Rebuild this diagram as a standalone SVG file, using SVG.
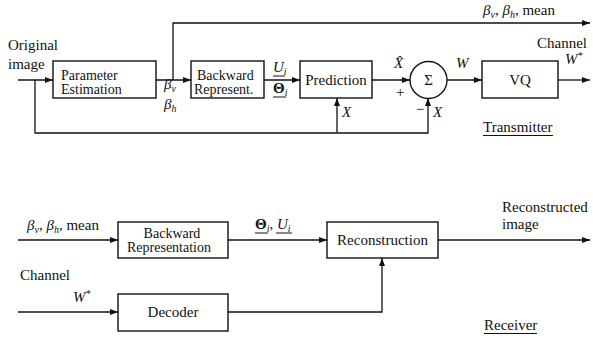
<svg xmlns="http://www.w3.org/2000/svg" width="593" height="339" viewBox="0 0 593 339" font-family="'Liberation Serif','Times New Roman',serif">
<defs>
<marker id="arr" markerUnits="userSpaceOnUse" markerWidth="8" markerHeight="6" refX="8" refY="3" orient="auto">
<path d="M0,0 L8,3 L0,6 z" fill="#111"/>
</marker>
<style>
.box{fill:#fff;stroke:#111;stroke-width:1.4}
.ln{fill:none;stroke:#111;stroke-width:1.3}
.a{marker-end:url(#arr)}
text{font-family:'Liberation Serif','Times New Roman',serif;font-size:15px;fill:#111}
.t2{font-size:14px}
.m{font-style:italic}
.c{text-anchor:middle}
.s{font-size:10px}
.ul{fill:none;stroke:#111;stroke-width:1}
</style>
</defs>
<rect width="593" height="339" fill="#fff"/>

<g id="connectors">
<path class="ln a" d="M18,80 H53"/>
<path class="ln a" d="M156,80 H191"/>
<path class="ln a" d="M173,80 V23 H590"/>
<path class="ln a" d="M264,80 H300"/>
<path class="ln a" d="M372,80 H410"/>
<path class="ln a" d="M447,80 H482"/>
<path class="ln a" d="M558,80 H590"/>
<path class="ln a" d="M35,80 V133 H428 V98"/>
<path class="ln a" d="M337,133 V98"/>
<path class="ln a" d="M18,240 H118"/>
<path class="ln a" d="M228,240 H327"/>
<path class="ln a" d="M438,240 H590"/>
<path class="ln a" d="M18,312 H118"/>
<path class="ln a" d="M228,312 H382 V258"/>
</g>

<g id="param-est">
<rect class="box" x="53" y="61" width="103" height="37"/>
<text class="t2" x="61" y="80">Parameter</text>
<text class="t2" x="61" y="94">Estimation</text>
</g>
<g id="backward-tx">
<rect class="box" x="191" y="61" width="73" height="37"/>
<text class="t2" x="197" y="80">Backward</text>
<text class="t2" x="194" y="94">Represent.</text>
</g>
<g id="prediction">
<rect class="box" x="300" y="61" width="72" height="37"/>
<text class="c" x="336" y="85">Prediction</text>
</g>
<g id="sum">
<circle cx="428.5" cy="80" r="18.5" fill="#fff" stroke="#111" stroke-width="1.4"/>
<text class="c" x="428.5" y="85" font-size="14">Σ</text>
</g>
<g id="vq">
<rect class="box" x="482" y="61" width="76" height="37"/>
<text class="c" x="520" y="85">VQ</text>
</g>
<g id="backward-rx">
<rect class="box" x="118" y="222" width="110" height="36"/>
<text class="c t2" x="172" y="238">Backward</text>
<text class="c t2" x="169" y="252">Representation</text>
</g>
<g id="reconstruction">
<rect class="box" x="327" y="222" width="111" height="36"/>
<text class="c" x="382.5" y="245">Reconstruction</text>
</g>
<g id="decoder">
<rect class="box" x="118" y="294" width="110" height="37"/>
<text class="c" x="173" y="317">Decoder</text>
</g>

<g id="labels">
<text x="8" y="50">Original</text>
<text x="8" y="69">image</text>
<text class="m" x="164" y="89">β<tspan class="s" dy="3">v</tspan></text>
<text class="m" x="164" y="109">β<tspan class="s" dy="3">h</tspan></text>
<text class="m" x="273" y="72">U<tspan class="s" dy="3">i</tspan></text>
<line class="ul" x1="273" y1="76" x2="285" y2="76"/>
<text x="273" y="93" font-weight="bold">Θ<tspan class="s m" dy="3" font-weight="normal">i</tspan></text>
<line class="ul" x1="273" y1="97" x2="286" y2="97"/>
<text class="m" x="342" y="117">X</text>
<text class="m" x="394" y="68">X̂</text>
<text x="396" y="97">+</text>
<text x="416" y="114">−</text>
<text class="m" x="433" y="117">X</text>
<text class="m" x="456" y="68">W</text>
<text class="m" x="565" y="64">W<tspan class="s" dy="-5">*</tspan></text>
<text x="537" y="48">Channel</text>
<text class="m" x="483" y="15">β<tspan class="s" dy="3">v</tspan><tspan dy="-3" font-style="normal">, </tspan>β<tspan class="s" dy="3">h</tspan><tspan dy="-3" font-style="normal">, mean</tspan></text>
<text x="483" y="132">Transmitter</text>
<line class="ul" x1="483" y1="135.5" x2="553" y2="135.5"/>

<text class="m" x="27" y="230">β<tspan class="s" dy="3">v</tspan><tspan dy="-3" font-style="normal">, </tspan>β<tspan class="s" dy="3">h</tspan><tspan dy="-3" font-style="normal">, mean</tspan></text>
<text x="255" y="229" font-weight="bold">Θ<tspan class="s m" dy="3" font-weight="normal">i</tspan><tspan dy="-3" font-weight="normal">, </tspan><tspan class="m" font-weight="normal">U</tspan><tspan class="s m" dy="3" font-weight="normal">i</tspan></text>
<line class="ul" x1="255" y1="233" x2="268" y2="233"/>
<line class="ul" x1="276" y1="233" x2="292" y2="233"/>
<text x="502" y="212">Reconstructed</text>
<text x="502" y="229">image</text>
<text x="20" y="280">Channel</text>
<text class="m" x="73" y="302">W<tspan class="s" dy="-5">*</tspan></text>
<text x="484" y="330">Receiver</text>
<line class="ul" x1="484" y1="333.5" x2="537" y2="333.5"/>
</g>
</svg>
